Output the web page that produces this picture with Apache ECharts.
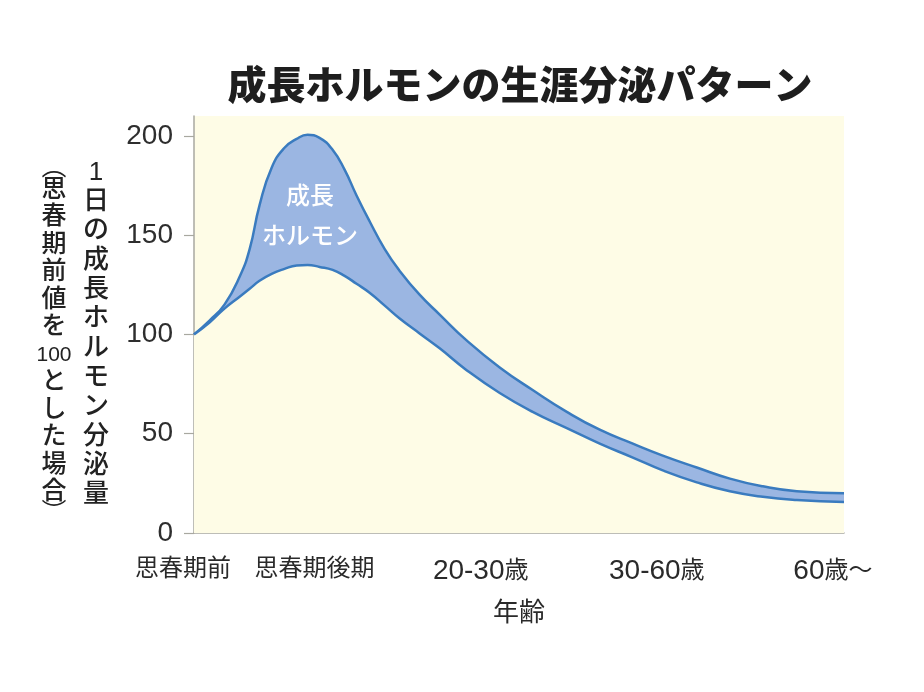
<!DOCTYPE html>
<html>
<head>
<meta charset="utf-8">
<script src="https://cdn.jsdelivr.net/npm/echarts@6/dist/echarts.min.js"></script>
<style>html,body{margin:0;padding:0;background:#fff;}#c{width:924px;height:692px;}</style>
</head>
<body>
<div id="c"></div>
<script>
// ---- data ----
const titleText = '成長ホルモンの生涯分泌パターン';
const ageLabels = ['思春期前', '思春期後期', '20-30歳', '30-60歳', '60歳〜'];
const agePos = [0.372, 1, 2, 3, 4];
const xMax = 4.063;
const yTicks = [0, 50, 100, 150, 200];
const xPts = [0.372, 0.460, 0.545, 0.631, 0.688, 0.744, 0.813, 0.886, 0.955, 1.017, 1.085, 1.159, 1.227, 1.295, 1.369, 1.455, 1.540, 1.653, 1.767, 1.920, 2.108, 2.295, 2.489, 2.676, 2.864, 3.034, 3.227, 3.415, 3.602, 3.795, 4.063];
const upper = [100, 107, 115, 129, 143, 165, 184, 194, 198.5, 200.5, 199, 193, 183, 170, 157, 143, 132, 120, 110, 97, 83.4, 72, 61, 52, 45, 39, 33, 27.4, 23.5, 21, 20];
const lower = [100, 106, 113, 119, 123, 127, 130.5, 133, 134.7, 135, 134, 132.5, 129.5, 125.5, 121, 114.5, 108, 100.5, 93, 82, 70.5, 61, 52.8, 45, 38, 31.5, 25.5, 21, 18.2, 16.6, 15.6];
const yNameMain = ['1', '日', 'の', '成', '長', 'ホ', 'ル', 'モ', 'ン', '分', '泌', '量'];
const yNameSub = ['︵', '思', '春', '期', '前', '値', 'を', '100', 'と', 'し', 'た', '場', '合', '︶'];
const bandLabel = '成長\nホルモン';
const xName = '年齢';

// ---- chart ----
const FONT = "'Liberation Sans', 'Noto Sans CJK JP', sans-serif";
const lineColor = '#3a7bbf';
const fillColor = '#9bb6e2';
const plotBg = '#fefce6';

const upperData = xPts.map((x, i) => [x, upper[i]]);
const lowerData = xPts.map((x, i) => [x, lower[i]]);

function xLabelFormatter(v) {
  let best = 0;
  agePos.forEach((p, i) => { if (Math.abs(p - v) < Math.abs(agePos[best] - v)) best = i; });
  const t = ageLabels[best];
  if (best === 0) return '{l|' + t + '}';
  if (best === 1) return '{r|' + t + '}';
  return t.replace(/([0-9\-]+)/g, '{d|$1}').replace(/([^{}|a-z0-9\-]+)$/, '{c|$1}');
}

const subText = yNameSub.map(s => /^[0-9]+$/.test(s) ? '{n|' + s + '}' : (s === '︵' || s === '︶') ? '{p|' + s + '}' : '{c|' + s + '}').join('\n');

const chart = echarts.init(document.getElementById('c'), null, { renderer: 'canvas' });
chart.setOption({
  backgroundColor: '#ffffff',
  animation: false,
  title: {
    text: titleText,
    left: 515,
    top: 64,
    textAlign: 'center',
    textStyle: { fontFamily: FONT, fontSize: 39, fontWeight: 900, color: '#1e1e1e' }
  },
  grid: {
    left: 194, right: 80, top: 116, bottom: 159,
    show: true, backgroundColor: plotBg, borderWidth: 0,
    containLabel: false, outerBoundsMode: 'none'
  },
  xAxis: {
    type: 'value',
    min: agePos[0],
    max: xMax,
    name: xName,
    nameLocation: 'middle',
    nameGap: 68,
    nameTextStyle: { fontFamily: FONT, fontSize: 26, color: '#2a2a2a' },
    splitLine: { show: false },
    axisLine: { show: true, lineStyle: { color: '#a8a8a0', width: 1.5 } },
    axisTick: { show: true, inside: true, length: 13, customValues: agePos.slice(1), lineStyle: { color: '#a8a8a0', width: 1.2 } },
    axisLabel: {
      show: true,
      customValues: agePos,
      margin: 24,
      fontFamily: FONT,
      fontSize: 24,
      color: '#2a2a2a',
      formatter: xLabelFormatter,
      rich: {
        l: { fontFamily: FONT, fontSize: 24, color: '#2a2a2a', padding: [0, 22, 0, 0] },
        r: { fontFamily: FONT, fontSize: 24, color: '#2a2a2a', padding: [0, 0, 0, 20] },
        d: { fontFamily: FONT, fontSize: 28, color: '#2a2a2a' },
        c: { fontFamily: FONT, fontSize: 24, color: '#2a2a2a' }
      }
    }
  },
  yAxis: {
    type: 'value',
    min: 0,
    max: 210,
    interval: 50,
    splitLine: { show: false },
    axisLine: { show: true, lineStyle: { color: '#a8a8a0', width: 1.5 } },
    axisTick: { show: true, inside: false, length: 10, customValues: yTicks, lineStyle: { color: '#a8a8a0', width: 1.2 } },
    axisLabel: { show: true, customValues: yTicks, margin: 21, fontFamily: FONT, fontSize: 28, color: '#2e2e2e' }
  },
  graphic: [
    {
      type: 'text', x: 96, y: 158, silent: true,
      style: { text: yNameMain.join('\n'), align: 'center', verticalAlign: 'top', fontFamily: FONT, fontSize: 26, fontWeight: 500, lineHeight: 29.3, fill: '#222' }
    },
    {
      type: 'text', x: 54, y: 160, silent: true,
      style: {
        text: subText, align: 'center', verticalAlign: 'top', fill: '#222', fontFamily: FONT, fontSize: 25,
        rich: {
          c: { fontFamily: FONT, fontSize: 25, fontWeight: 500, lineHeight: 27.5, fill: '#222' },
          n: { fontFamily: FONT, fontSize: 21, lineHeight: 27.5, fill: '#222' },
          p: { fontFamily: FONT, fontSize: 25, lineHeight: 16, fill: '#222' }
        }
      }
    },
    {
      type: 'text', x: 310, y: 217, silent: true, z: 10,
      style: { text: bandLabel, align: 'center', verticalAlign: 'middle', fontFamily: FONT, fontSize: 24, fontWeight: 500, lineHeight: 40, fill: '#ffffff' }
    }
  ],
  series: [
    {
      name: 'upper', type: 'line', data: upperData,
      smooth: true, showSymbol: false, symbol: 'none', z: 2,
      lineStyle: { color: lineColor, width: 2.5 },
      areaStyle: { color: fillColor, opacity: 1, origin: 'start' }
    },
    {
      name: 'lower', type: 'line', data: lowerData,
      smooth: true, showSymbol: false, symbol: 'none', z: 3,
      lineStyle: { color: lineColor, width: 2.5 },
      areaStyle: { color: plotBg, opacity: 1, origin: 'start' }
    }
  ]
});
</script>
</body>
</html>
